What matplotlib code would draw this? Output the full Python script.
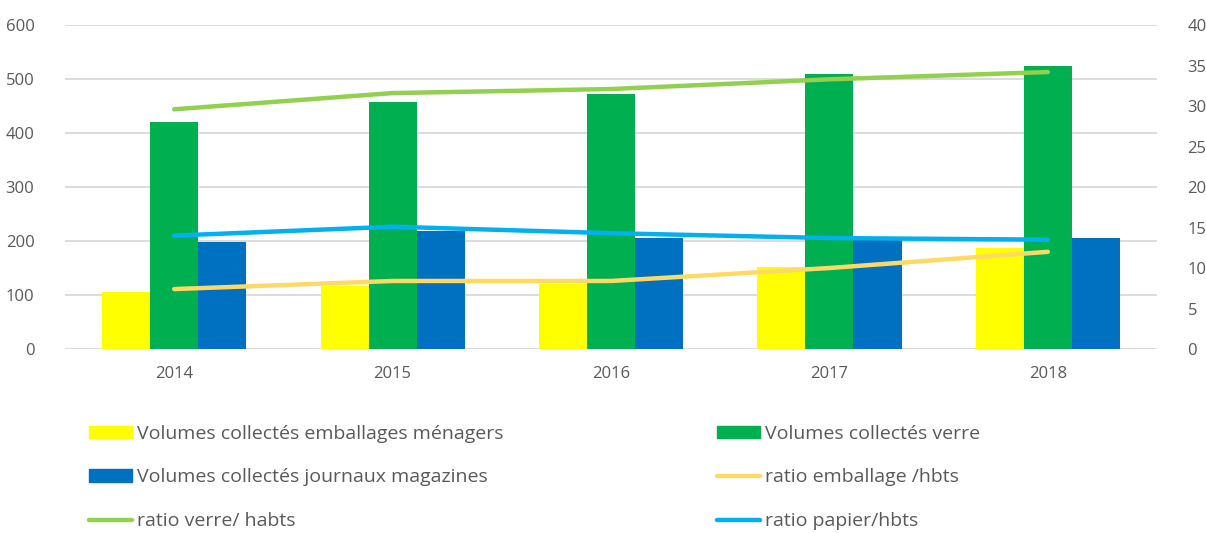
import matplotlib
matplotlib.use("Agg")
import matplotlib.pyplot as plt
import numpy as np
from matplotlib.patches import Patch
from matplotlib.lines import Line2D

years = ["2014", "2015", "2016", "2017", "2018"]
vol_emballages = [106, 117, 120, 151, 187]
vol_verre = [421, 458, 473, 509, 524]
vol_journaux = [199, 219, 206, 202, 206]
ratio_emballage = [7.4, 8.4, 8.4, 10.0, 12.0]
ratio_verre = [29.6, 31.6, 32.1, 33.3, 34.2]
ratio_papier = [14.0, 15.1, 14.3, 13.7, 13.5]

YELLOW = "#ffff00"
GREEN = "#00b050"
BLUE = "#0070c0"
L_YELLOW = "#ffd966"
L_GREEN = "#92d050"
L_BLUE = "#00b0f0"
TXT = "#595959"
GRID = "#d9d9d9"

plt.rcParams["font.family"] = ["Open Sans", "DejaVu Sans"]

fig = plt.figure(figsize=(12.06, 5.33), dpi=100)
ax = fig.add_axes([0.0539, 0.3452, 0.9055, 0.6078])
ax2 = ax.twinx()

x = np.arange(len(years))
w = 0.22
ax.bar(x - w, vol_emballages, w, color=YELLOW, zorder=2)
ax.bar(x, vol_verre, w, color=GREEN, zorder=2)
ax.bar(x + w, vol_journaux, w, color=BLUE, zorder=2)

ax.set_xlim(-0.5, len(years) - 0.5)
ax.set_ylim(0, 600)
ax.set_yticks(range(0, 601, 100))
ax.set_xticks(x)
ax.set_xticklabels(years)
ax.grid(axis="y", color=GRID, lw=1.3, zorder=0)
ax.set_axisbelow(True)

for lst, col in ((ratio_emballage, L_YELLOW), (ratio_verre, L_GREEN),
                 (ratio_papier, L_BLUE)):
    ax2.plot(x, lst, color=col, lw=3.2, solid_capstyle="round", zorder=3)
ax2.set_ylim(0, 40)
ax2.set_yticks(range(0, 41, 5))

for a in (ax, ax2):
    for s in a.spines.values():
        s.set_visible(False)
    a.tick_params(length=0, colors=TXT, labelsize=12)
ax.tick_params(axis="y", pad=22)
ax.tick_params(axis="x", pad=12)
ax2.tick_params(axis="y", pad=22)

h_left = [Patch(color=YELLOW), Patch(color=BLUE),
          Line2D([], [], color=L_GREEN, lw=3.2, solid_capstyle="round")]
l_left = ["Volumes collectés emballages ménagers",
          "Volumes collectés journaux magazines", "ratio verre/ habts"]
h_right = [Patch(color=GREEN),
           Line2D([], [], color=L_YELLOW, lw=3.2, solid_capstyle="round"),
           Line2D([], [], color=L_BLUE, lw=3.2, solid_capstyle="round")]
l_right = ["Volumes collectés verre", "ratio emballage /hbts",
           "ratio papier/hbts"]

kw = dict(frameon=False, fontsize=14, labelcolor=TXT, handlelength=2.2,
          handleheight=0.6, handletextpad=0.25, labelspacing=1.32,
          loc="upper left", borderpad=0, borderaxespad=0)
fig.legend(h_left, l_left, bbox_to_anchor=(0.0738, 0.203), **kw)
fig.legend(h_right, l_right, bbox_to_anchor=(0.5945, 0.203), **kw)

fig.savefig("out.png", dpi=100, facecolor="white")
